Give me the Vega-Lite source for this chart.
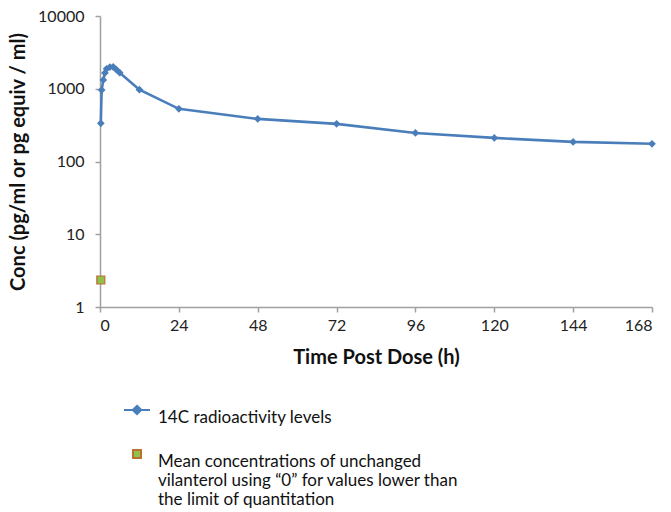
{
  "$schema": "https://vega.github.io/schema/vega-lite/v6.json",
  "autosize": {"type": "none"},
  "padding": {"left": 100, "top": 16, "right": 19, "bottom": 205},
  "width": 552,
  "height": 291,
  "background": "white",
  "config": {
    "view": {"stroke": null},
    "font": "Lato",
    "axis": {"grid": false, "domainColor": "#a0a0a0", "tickColor": "#a0a0a0", "labelColor": "#222", "titleColor": "#111", "labelFont": "Lato", "titleFont": "Lato", "labelFontSize": 16, "titleFontSize": 20, "titleFontWeight": "bold", "tickSize": 5, "domainWidth": 1.5, "tickWidth": 1.5}
  },
  "data": {"values": [
    {"t": 0.25, "c": 335, "s": "14C radioactivity levels"},
    {"t": 0.5, "c": 960, "s": "14C radioactivity levels"},
    {"t": 1, "c": 1320, "s": "14C radioactivity levels"},
    {"t": 1.5, "c": 1650, "s": "14C radioactivity levels"},
    {"t": 2, "c": 1880, "s": "14C radioactivity levels"},
    {"t": 3, "c": 1990, "s": "14C radioactivity levels"},
    {"t": 4, "c": 2000, "s": "14C radioactivity levels"},
    {"t": 5, "c": 1830, "s": "14C radioactivity levels"},
    {"t": 6, "c": 1660, "s": "14C radioactivity levels"},
    {"t": 12, "c": 970, "s": "14C radioactivity levels"},
    {"t": 24, "c": 530, "s": "14C radioactivity levels"},
    {"t": 48, "c": 385, "s": "14C radioactivity levels"},
    {"t": 72, "c": 329, "s": "14C radioactivity levels"},
    {"t": 96, "c": 247, "s": "14C radioactivity levels"},
    {"t": 120, "c": 211, "s": "14C radioactivity levels"},
    {"t": 144, "c": 186, "s": "14C radioactivity levels"},
    {"t": 168, "c": 175, "s": "14C radioactivity levels"},
    {"t": 0.25, "c": 2.35, "s": "Mean concentrations of unchanged vilanterol"}
  ]},
  "encoding": {
    "x": {"field": "t", "type": "quantitative", "scale": {"domain": [0, 168], "nice": false}, "axis": {"values": [0, 24, 48, 72, 96, 120, 144, 168], "title": "Time Post Dose (h)", "titlePadding": 14, "labelPadding": 5}},
    "y": {"field": "c", "type": "quantitative", "scale": {"type": "log", "domain": [1, 10000], "nice": false}, "axis": {"values": [1, 10, 100, 1000, 10000], "format": "d", "title": "Conc (pg/ml or pg equiv / ml)", "titlePadding": 9, "labelPadding": 11}}
  },
  "layer": [
    {
      "transform": [{"filter": "datum.s == '14C radioactivity levels'"}],
      "mark": {"type": "line", "color": "#4a7ebb", "strokeWidth": 2.6}
    },
    {
      "transform": [{"filter": "datum.s == '14C radioactivity levels'"}],
      "mark": {"type": "point", "shape": "diamond", "filled": true, "opacity": 1, "size": 60, "color": "#4a7ebb"}
    },
    {
      "transform": [{"filter": "datum.s != '14C radioactivity levels'"}],
      "mark": {"type": "point", "filled": true, "opacity": 1, "size": 400, "strokeWidth": 1.2},
      "encoding": {
        "shape": {"field": "s", "type": "nominal", "scale": {"domain": ["14C radioactivity levels", "Mean concentrations of unchanged vilanterol"], "range": ["M-1.3,0L1.3,0M0,-0.42L0.42,0L0,0.42L-0.42,0Z", "M-0.4,-0.4L0.4,-0.4L0.4,0.4L-0.4,0.4Z"]},
          "legend": {
            "title": null, "orient": "none", "legendX": 26, "legendY": 383, "direction": "vertical",
            "labelFont": "Lato", "labelFontSize": 17, "labelColor": "#111", "labelLimit": 500,
            "labelOffset": 10, "rowPadding": 17, "symbolSize": 400, "symbolStrokeWidth": 2,
            "labelBaseline": "top",
            "labelExpr": "datum.value == '14C radioactivity levels' ? '14C radioactivity levels' : ['Mean concentrations of unchanged', 'vilanterol  using \u201c0\u201d for values lower than', 'the limit of quantitation']"
          }},
        "fill": {"field": "s", "type": "nominal", "scale": {"domain": ["14C radioactivity levels", "Mean concentrations of unchanged vilanterol"], "range": ["#4a7ebb", "#92c04f"]}},
        "stroke": {"field": "s", "type": "nominal", "scale": {"domain": ["14C radioactivity levels", "Mean concentrations of unchanged vilanterol"], "range": ["#4a7ebb", "#b9712f"]}}
      }
    }
  ]
}
